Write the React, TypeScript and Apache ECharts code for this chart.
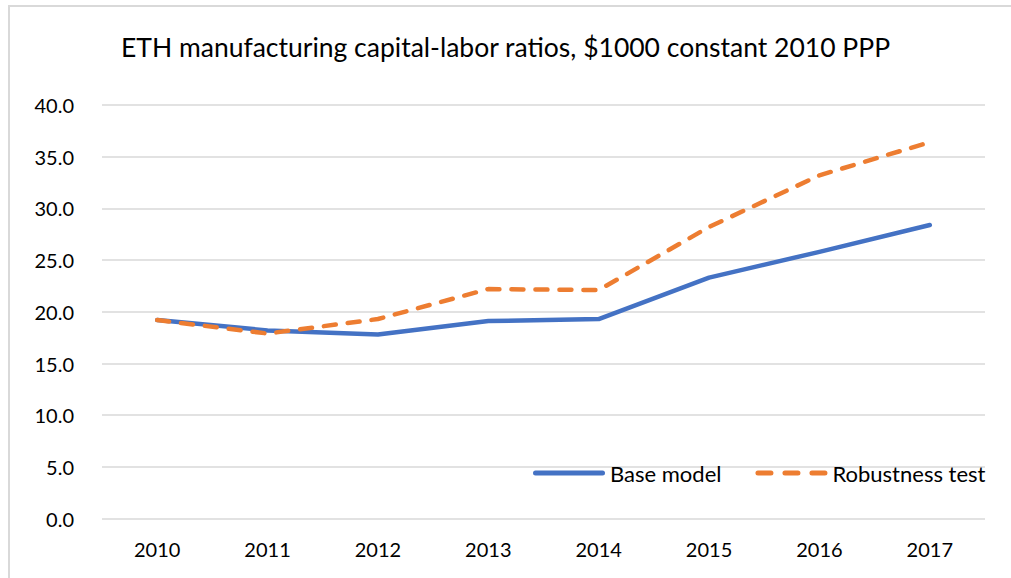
import React, { useEffect, useRef } from "react";
import * as echarts from "echarts";

const years = ["2010", "2011", "2012", "2013", "2014", "2015", "2016", "2017"];
const baseModel = [19.2, 18.2, 17.8, 19.1, 19.3, 23.3, 25.8, 28.4];
const robustnessTest = [19.2, 17.9, 19.3, 22.2, 22.1, 28.2, 33.2, 36.4];
const titleText = "ETH manufacturing capital-labor ratios, $1000 constant 2010 PPP";

const solidIcon = "path://M2.5 0H69.5A2.5 2.5 0 0 1 69.5 5H2.5A2.5 2.5 0 0 1 2.5 0Z";
const dashIcon =
  "path://M2.5 0H15.5A2.5 2.5 0 0 1 15.5 5H2.5A2.5 2.5 0 0 1 2.5 0Z" +
  "M29.5 0H42.5A2.5 2.5 0 0 1 42.5 5H29.5A2.5 2.5 0 0 1 29.5 0Z" +
  "M56.5 0H69.5A2.5 2.5 0 0 1 69.5 5H56.5A2.5 2.5 0 0 1 56.5 0Z";

export default function App() {
  const ref = useRef<HTMLDivElement>(null);
  useEffect(() => {
    if (!ref.current) return;
    const chart = echarts.init(ref.current, null, { renderer: "svg" });
    const font = "Lato, 'Open Sans', sans-serif";
    chart.setOption({
      animation: false,
      backgroundColor: "#ffffff",
      textStyle: { fontFamily: font },
      title: {
        text: titleText,
        left: "center",
        top: 28,
        textStyle: { fontFamily: font, fontSize: 26.5, fontWeight: "normal", color: "#000" },
      },
      graphic: [
        {
          type: "rect",
          shape: { x: 9, y: 6, width: 1100, height: 700 },
          style: { fill: "none", stroke: "#d9d9d9", lineWidth: 2 },
          silent: true,
        },
      ],
      legend: {
        left: 528,
        top: 457,
        itemWidth: 72,
        itemHeight: 5,
        itemGap: 34,
        textStyle: { fontFamily: font, fontSize: 22, color: "#000" },
        data: [
          { name: "Base model", icon: solidIcon },
          { name: "Robustness test", icon: dashIcon },
        ],
      },
      grid: { left: 102, right: 26, top: 105, bottom: 59.4, containLabel: false },
      xAxis: {
        type: "category",
        data: years,
        boundaryGap: true,
        axisLine: { show: false },
        axisTick: { show: false },
        axisLabel: { margin: 20, fontSize: 20, color: "#000", fontFamily: font },
      },
      yAxis: {
        type: "value",
        min: 0,
        max: 40,
        interval: 5,
        axisLine: { show: false },
        axisTick: { show: false },
        splitLine: { lineStyle: { color: "#d9d9d9", width: 1.5 } },
        axisLabel: {
          margin: 28,
          fontSize: 20,
          color: "#000",
          fontFamily: font,
          formatter: (v: number) => v.toFixed(1),
        },
      },
      series: [
        {
          name: "Base model",
          type: "line",
          data: baseModel,
          symbol: "none",
          lineStyle: { color: "#4472C4", width: 4.5, cap: "round", join: "round" },
          itemStyle: { color: "#4472C4" },
        },
        {
          name: "Robustness test",
          type: "line",
          data: robustnessTest,
          symbol: "none",
          lineStyle: {
            color: "#ED7D31",
            width: 4.5,
            type: [12, 12],
            cap: "round",
            join: "round",
          },
          itemStyle: { color: "#ED7D31" },
        },
      ],
    });
    return () => chart.dispose();
  }, []);
  return (
    <div
      ref={ref}
      style={{ position: "absolute", left: 0, top: 0, width: 1011, height: 578 }}
    />
  );
}
